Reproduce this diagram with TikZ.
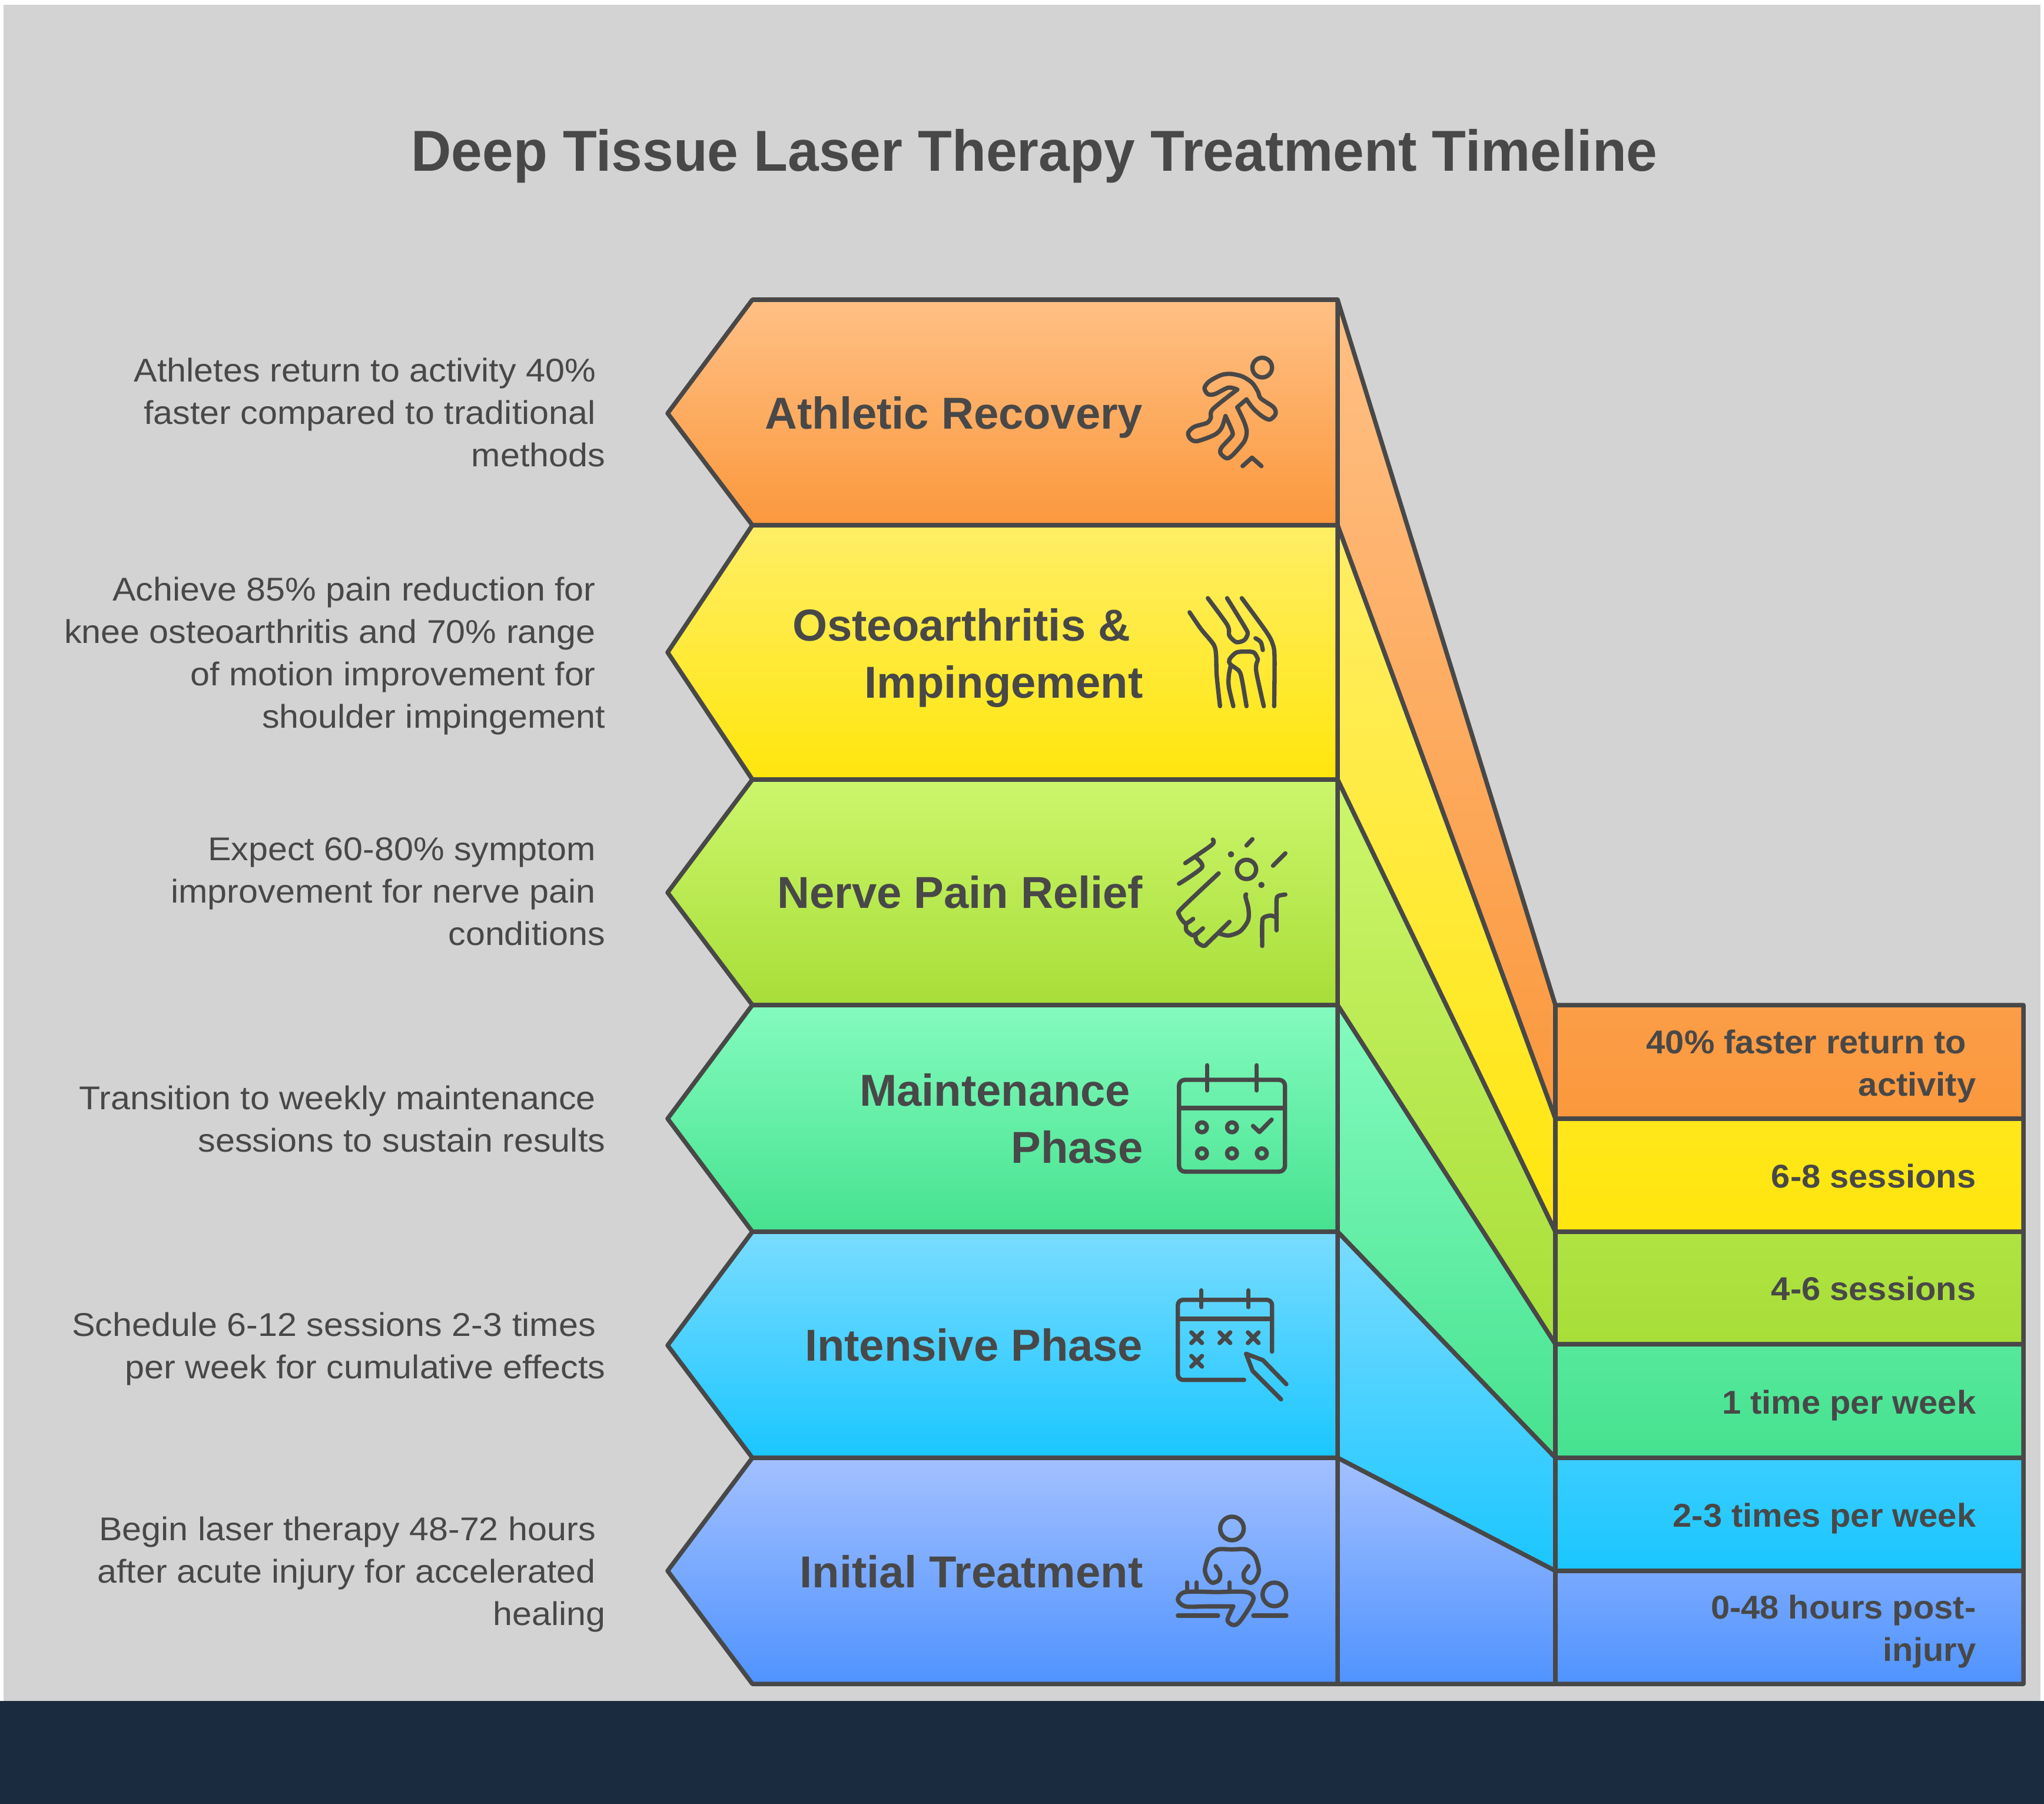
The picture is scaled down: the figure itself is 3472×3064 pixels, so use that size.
\documentclass[tikz,border=0pt]{standalone}
\usepackage{fontspec}
\setmainfont{Liberation Sans}
\newfontfamily\titlefont[FakeStretch=0.965]{Liberation Sans}
\newfontfamily\notefont[FakeStretch=1.06]{Liberation Sans}
\newfontfamily\spanfont[FakeStretch=1.035]{Liberation Sans}
\definecolor{inkgray}{HTML}{484848}
\definecolor{paper}{HTML}{D3D3D3}
\definecolor{band}{HTML}{1A2B40}
\definecolor{orangeA}{HTML}{FFC085}
\definecolor{orangeB}{HTML}{FB983D}
\definecolor{yellowA}{HTML}{FFEE66}
\definecolor{yellowB}{HTML}{FFE60D}
\definecolor{limeA}{HTML}{CCF66C}
\definecolor{limeB}{HTML}{A8DE38}
\definecolor{mintA}{HTML}{84FBBE}
\definecolor{mintB}{HTML}{46E290}
\definecolor{skyA}{HTML}{7ADCFF}
\definecolor{skyB}{HTML}{1AC6FF}
\definecolor{blueA}{HTML}{A3C0FF}
\definecolor{blueB}{HTML}{4F93FF}
\tikzset{
  outline/.style={draw=inkgray,line width=0.075cm,line join=round},
  iconline/.style={draw=inkgray,line width=0.073cm,line join=round,line cap=round},
  evenlines/.style={anchor=east,align=right,inner sep=0pt,text=inkgray,execute at begin node=\strut,execute at end node=\strut},
  titletext/.style={text=inkgray,font=\titlefont\fontsize{27.9}{34}\selectfont\bfseries},
  phasetext/.style={evenlines,font=\fontsize{21.6}{27.4}\selectfont\bfseries},
  notetext/.style={evenlines,font=\notefont\fontsize{15.9}{20.5}\selectfont},
  spantext/.style={evenlines,font=\spanfont\fontsize{15.9}{20.5}\selectfont\bfseries}
}
\begin{document}
\begin{tikzpicture}[x=0.01cm,y=-0.01cm]
    \useasboundingbox (0,0) rectangle (3472,3064);
    \fill[white] (0,0) rectangle (3472,3064);
    \fill[paper] (6,8) rectangle (3466,2889);
    \fill[band] (0,2889) rectangle (3472,3064);

    \node[titletext] (title) at (1757,265) {Deep Tissue Laser Therapy Treatment Timeline};

    % right side flags, top one first
    \shade[outline,top color=orangeA,bottom color=orangeB] (2272,509) -- (2642,1707) -- (3437,1707) -- (3437,1900) -- (2642,1900) -- (2272,892) -- cycle;
    \shade[outline,top color=yellowA,bottom color=yellowB] (2272,892) -- (2642,1900) -- (3437,1900) -- (3437,2092) -- (2642,2092) -- (2272,1324) -- cycle;
    \shade[outline,top color=limeA,bottom color=limeB] (2272,1324) -- (2642,2092) -- (3437,2092) -- (3437,2283) -- (2642,2283) -- (2272,1707) -- cycle;
    \shade[outline,top color=mintA,bottom color=mintB] (2272,1707) -- (2642,2283) -- (3437,2283) -- (3437,2476) -- (2642,2476) -- (2272,2092) -- cycle;
    \shade[outline,top color=skyA,bottom color=skyB] (2272,2092) -- (2642,2476) -- (3437,2476) -- (3437,2668) -- (2642,2668) -- (2272,2476) -- cycle;
    \shade[outline,top color=blueA,bottom color=blueB] (2272,2476) -- (2642,2668) -- (3437,2668) -- (3437,2860) -- (2272,2860) -- cycle;
    \draw[outline] (2642,1707) -- (2642,2860);

    % left arrows
    \shade[outline,top color=orangeA,bottom color=orangeB] (1278,509) -- (2272,509) -- (2272,892) -- (1278,892) -- (1134,702) -- cycle;
    \shade[outline,top color=yellowA,bottom color=yellowB] (1278,892) -- (2272,892) -- (2272,1324) -- (1278,1324) -- (1134,1108) -- cycle;
    \shade[outline,top color=limeA,bottom color=limeB] (1278,1324) -- (2272,1324) -- (2272,1707) -- (1278,1707) -- (1134,1516) -- cycle;
    \shade[outline,top color=mintA,bottom color=mintB] (1278,1707) -- (2272,1707) -- (2272,2092) -- (1278,2092) -- (1134,1900) -- cycle;
    \shade[outline,top color=skyA,bottom color=skyB] (1278,2092) -- (2272,2092) -- (2272,2476) -- (1278,2476) -- (1134,2285) -- cycle;
    \shade[outline,top color=blueA,bottom color=blueB] (1278,2476) -- (2272,2476) -- (2272,2860) -- (1278,2860) -- (1134,2668) -- cycle;

    % phase names
    \node[phasetext] (recovery) at (1942,709) {Athletic Recovery};
    \node[phasetext] (osteo) at (1942,1124) {Osteoarthritis \&~\mbox{}\\Impingement};
    \node[phasetext] (nerve) at (1942,1523) {Nerve Pain Relief};
    \node[phasetext] (maintenance) at (1942,1914) {Maintenance~\mbox{}\\Phase};
    \node[phasetext] (intensive) at (1942,2292) {Intensive Phase};
    \node[phasetext] (initial) at (1942,2677) {Initial Treatment};

    % notes on the left
    \node[notetext] (noteA) at (1029,711) {Athletes return to activity 40\%~\mbox{}\\faster compared to traditional~\mbox{}\\methods};
    \node[notetext] (noteB) at (1029,1119) {Achieve 85\% pain reduction for~\mbox{}\\knee osteoarthritis and 70\% range~\mbox{}\\of motion improvement for~\mbox{}\\shoulder impingement};
    \node[notetext] (noteC) at (1029,1525) {Expect 60-80\% symptom~\mbox{}\\improvement for nerve pain~\mbox{}\\conditions};
    \node[notetext] (noteD) at (1029,1911) {Transition to weekly maintenance~\mbox{}\\sessions to sustain results};
    \node[notetext] (noteE) at (1029,2296) {Schedule 6-12 sessions 2-3 times~\mbox{}\\per week for cumulative effects};
    \node[notetext] (noteF) at (1029,2679) {Begin laser therapy 48-72 hours~\mbox{}\\after acute injury for accelerated~\mbox{}\\healing};

    % right block labels
    \node[spantext] (spanA) at (3357,1816) {40\% faster return to~\mbox{}\\activity};
    \node[spantext] (spanB) at (3357,2003) {6-8 sessions};
    \node[spantext] (spanC) at (3357,2194) {4-6 sessions};
    \node[spantext] (spanD) at (3357,2387) {1 time per week};
    \node[spantext] (spanE) at (3357,2579) {2-3 times per week};
    \node[spantext] (spanF) at (3357,2776) {0-48 hours post-\\injury};

    % runner
    \begin{scope}[shift={(1950,560)},scale=1/3]
        \draw[iconline] (582,193) circle (50);
        \draw[iconline] plot[smooth] coordinates {(455,305) (410,295) (340,328) (305,328) (288,298) (310,265) (370,232) (420,225) (480,238) (530,270) (560,315) (575,350) (640,395) (650,430) (620,458) (580,440) (535,400) (502,355)};
        \draw[iconline] (502,355) -- (455,395);
        \draw[iconline] plot[smooth] coordinates {(455,395) (490,470) (503,520) (490,570) (430,640) (400,655) (370,630) (375,600) (425,545) (430,520) (395,440)};
        \draw[iconline] plot[smooth] coordinates {(395,440) (375,500) (340,535) (250,568) (215,555) (205,525) (235,495) (300,475) (320,450) (330,405) (455,305)};
        \draw[iconline] (482,695) -- (530,652) -- (578,695);
    \end{scope}

    % knee
    \begin{scope}[shift={(1950,980)},scale=1/3]
        \draw[iconline] plot[smooth] coordinates {(212,180) (270,265) (335,345) (347,400) (350,500) (367,658)};
        \draw[iconline] plot[smooth] coordinates {(305,108) (395,230) (412,265) (415,300) (450,332) (490,322) (508,290) (495,258) (403,108)};
        \draw[iconline] plot[smooth] coordinates {(478,108) (600,275) (635,340) (645,410) (643,658)};
        \draw[iconline] plot[smooth] coordinates {(548,312) (575,332) (585,372)};
        \draw[iconline] plot[smooth] coordinates {(590,658) (553,490) (553,440) (560,420) (540,385) (500,380) (450,385) (415,420) (420,445) (465,480) (480,530) (502,658)};
        \draw[iconline] plot[smooth] coordinates {(435,658) (412,560) (412,500) (422,450)};
    \end{scope}

    % hand with nerve
    \begin{scope}[shift={(1950,1390)},scale=1/3]
        \draw[iconline] plot[smooth] coordinates {(330,108) (325,135) (190,228)};
        \draw[iconline] plot[smooth] coordinates {(245,200) (275,250) (158,333)};
        \draw[iconline] plot[smooth] coordinates {(360,280) (170,460) (158,490) (175,520) (195,535) (230,512)};
        \draw[iconline] plot[smooth] coordinates {(195,535) (195,570) (225,595) (245,590) (280,560)};
        \draw[iconline] plot[smooth] coordinates {(240,590) (250,630) (285,650) (310,630) (415,527)};
        \draw[iconline] plot[smooth] coordinates {(360,585) (410,597) (470,575) (510,520) (512,460) (497,400) (500,387)};
        \draw[iconline] (502,260) circle (49);
        \fill[inkgray] (423,183) circle (16) (578,339) circle (16);
        \draw[iconline] (502,138) -- (532,106);
        \draw[iconline] (637,241) -- (700,178);
        \draw[iconline] plot[smooth] coordinates {(700,388) (665,395) (655,420) (655,570)};
        \draw[iconline] plot[smooth] coordinates {(655,505) (625,495) (590,505) (582,530) (582,650)};
    \end{scope}

    % calendar with check
    \begin{scope}[shift={(1950,1780)},scale=1/3]
        \draw[iconline,rounded corners=0.1cm] (158,162) rectangle (698,630);
        \draw[iconline] (158,306) -- (698,306);
        \draw[iconline] (302,88) -- (302,216);
        \draw[iconline] (554,88) -- (554,216);
        \draw[iconline] (275,404) circle (25);
        \draw[iconline] (428,404) circle (25);
        \draw[iconline] (275,537) circle (25);
        \draw[iconline] (428,537) circle (25);
        \draw[iconline] (580,537) circle (25);
        \draw[iconline] (535,397) -- (568,428) -- (630,365);
    \end{scope}

    % calendar with pen
    \begin{scope}[shift={(1950,2160)},scale=1/3]
        \draw[iconline,rounded corners=0.09cm] (490,551) -- (152,551) -- (152,143) -- (632,143) -- (632,407);
        \draw[iconline] (152,240) -- (632,240);
        \draw[iconline] (272,95) -- (272,180);
        \draw[iconline] (512,95) -- (512,180);
        \draw[iconline] (221,309) -- (275,363) (275,309) -- (221,363);
        \draw[iconline] (365,309) -- (419,363) (419,309) -- (365,363);
        \draw[iconline] (509,309) -- (563,363) (563,309) -- (509,363);
        \draw[iconline] (221,429) -- (275,483) (275,429) -- (221,483);
        \draw[iconline] (705,573) -- (585,450) -- (500,418) -- (533,505) -- (678,650);
    \end{scope}

    % therapist and patient
    \begin{scope}[shift={(1950,2540)},scale=1/3]
        \draw[iconline] (428,168) circle (60);
        \draw[iconline] plot[smooth] coordinates {(345,360) (367,395) (362,430) (330,445) (305,425) (290,380) (310,310) (355,275) (428,275) (500,275) (545,310) (565,380) (550,425) (525,445) (493,430) (488,395) (512,360)};
        \draw[iconline] (200,443) -- (200,490);
        \draw[iconline] (248,443) -- (248,490);
        \draw[iconline] (416,443) -- (416,490);
        \draw[iconline] plot[smooth] coordinates {(435,565) (300,565) (190,565) (152,530) (190,492) (350,492) (500,492) (537,530) (470,640) (435,660) (405,635) (435,565)};
        \draw[iconline] (644,504) circle (60);
        \draw[iconline] (152,612) -- (357,612);
        \draw[iconline] (537,612) -- (705,612);
    \end{scope}
\end{tikzpicture}
\end{document}
